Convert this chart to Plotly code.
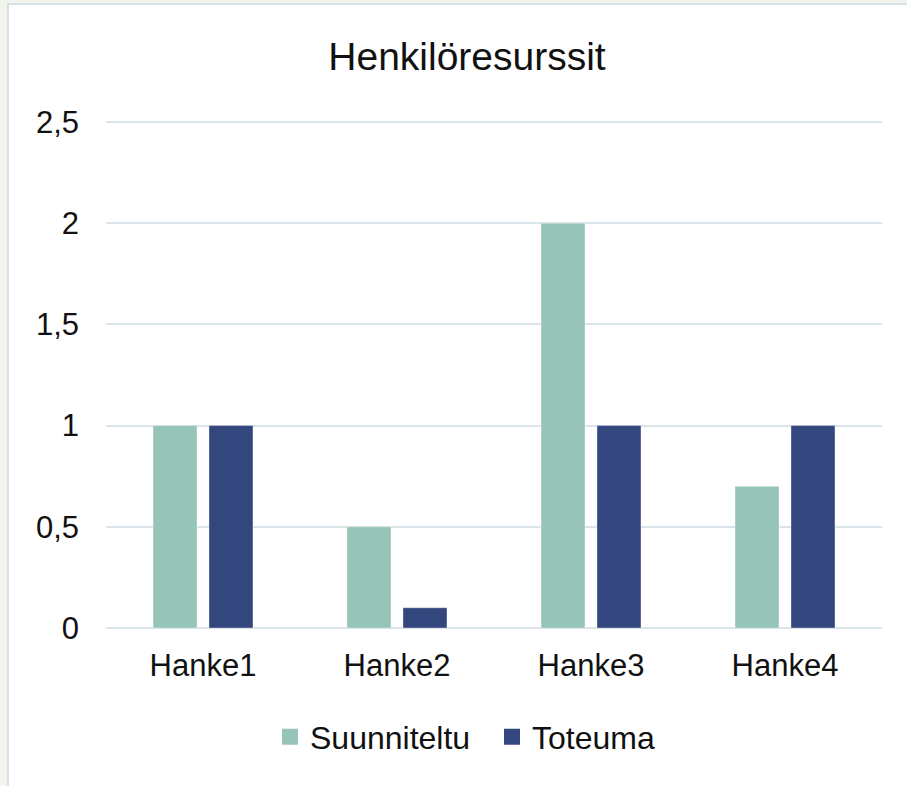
import plotly.graph_objects as go

categories = ["Hanke1", "Hanke2", "Hanke3", "Hanke4"]
suunniteltu = [1, 0.5, 2, 0.7]
toteuma = [1, 0.1, 1, 1]
series_names = ["Suunniteltu", "Toteuma"]
colors = ["#97c4b8", "#33467e"]
title_text = "Henkilöresurssit"
ytick_vals = [0, 0.5, 1, 1.5, 2, 2.5]

W, H = 907, 786
L, R, T, B = 106, 25, 120, 158
pw, ph = W - L - R, H - T - B

def px_x(p):
    return (p - L) / pw

def px_y(p):
    return (H - B - p) / ph

FONT = "Liberation Sans, Arial, sans-serif"
TXT = "#111111"

fig = go.Figure()
for name, vals, col in zip(series_names, [suunniteltu, toteuma], colors):
    fig.add_trace(go.Bar(
        x=categories, y=vals, name=name, showlegend=False,
        marker=dict(color=col, line=dict(color="rgba(255,255,255,0.35)", width=1)),
    ))
# legend entries with larger square symbols
for name, col in zip(series_names, colors):
    fig.add_trace(go.Scatter(
        x=[None], y=[None], mode="markers", name=name,
        marker=dict(symbol="square", size=17, color=col),
    ))

fig.add_shape(type="rect", xref="paper", yref="paper", layer="below",
              x0=px_x(8), x1=px_x(912), y0=px_y(4), y1=px_y(792),
              fillcolor="white", line=dict(color="#d7e2e7", width=2))

fig.update_layout(
    width=W, height=H,
    margin=dict(l=L, r=R, t=T, b=B, autoexpand=False),
    paper_bgcolor="#f3f4ee", plot_bgcolor="rgba(0,0,0,0)",
    separators=", ",
    font=dict(family=FONT, size=31, color=TXT),
    title=dict(text=title_text, x=467 / W, xanchor="center",
               y=1 - 56 / H, yanchor="middle", yref="container",
               font=dict(family=FONT, size=39, color=TXT)),
    barmode="group", bargap=0.423, bargroupgap=0.214,
    xaxis=dict(showline=False, showgrid=False, ticks="",
               tickfont=dict(size=31, color=TXT), ticklabelstandoff=16),
    yaxis=dict(range=[0, 2.51], tickvals=ytick_vals, showgrid=True,
               gridcolor="#dbe5e9", gridwidth=2, zeroline=True,
               zerolinecolor="#dbe5e9", zerolinewidth=2, showline=False,
               ticks="", tickfont=dict(size=31, color=TXT), ticklabelstandoff=26),
    legend=dict(orientation="h", x=px_x(270), xanchor="left",
                y=px_y(737), yanchor="middle", entrywidth=177,
                font=dict(size=32, color=TXT), bgcolor="rgba(0,0,0,0)"),
)

fig.write_html("out.html", config={"displayModeBar": False},
               post_script="document.body.style.margin='0px';")
